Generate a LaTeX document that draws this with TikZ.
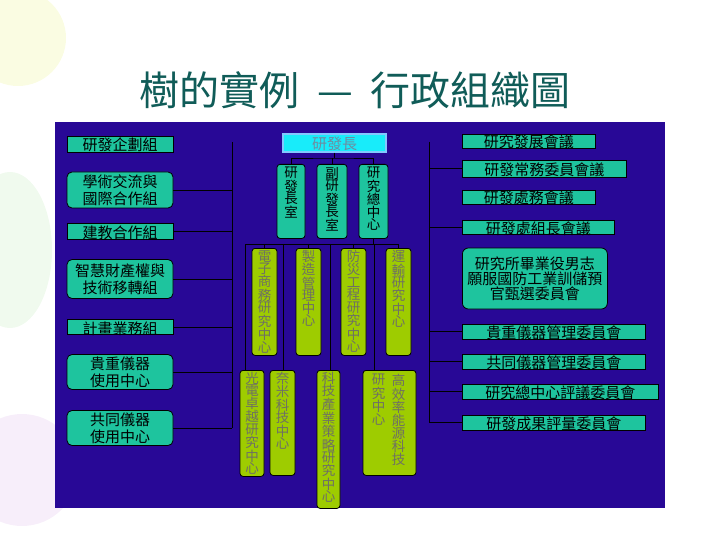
\documentclass[tikz,border=0pt]{standalone}
\usepackage{fontspec}
\newfontfamily\cjk{Noto Sans CJK TC}
\usetikzlibrary{positioning}
\definecolor{bgblue}{RGB}{40,8,150}
\definecolor{tealbox}{RGB}{30,196,158}
\definecolor{limebox}{RGB}{158,204,0}
\definecolor{chiefcyan}{RGB}{24,236,250}
\definecolor{chiefedge}{RGB}{130,200,255}
\definecolor{chieftext}{RGB}{110,140,160}
\definecolor{gtext}{RGB}{110,112,100}
\definecolor{titlecol}{RGB}{16,92,88}
\definecolor{ballyellow}{RGB}{250,252,226}
\definecolor{ballgreen}{RGB}{240,250,238}
\definecolor{ballviolet}{RGB}{247,238,250}
\begin{document}
\begin{tikzpicture}[x=1pt,y=-1pt,
  wire/.style={line width=0.8pt, black},
  sgl/.style={text height=14pt, text depth=-3pt},
  grp/.style={draw=black, line width=0.8pt, fill=tealbox, inner sep=0pt, minimum width=106pt,
    align=center, font=\cjk\fontsize{15}{17}\selectfont},
  cmt/.style={draw=black, line width=0.8pt, fill=tealbox, inner sep=0pt, anchor=west,
    align=center, font=\cjk\fontsize{15}{15}\selectfont},
  vcell/.style={draw=black, line width=0.8pt, rounded corners=3pt, inner sep=0pt, anchor=north},
  office/.style={vcell, fill=tealbox},
  ctrbox/.style={vcell, fill=limebox},
  vtxt/.style={align=center, inner sep=0pt, font=\cjk\fontsize{13.5}{12.4}\selectfont}]
  \useasboundingbox (0,0) rectangle (720,540);
  % faint balloons behind the slide
  \fill[ballyellow] (18,38) circle (48);
  \fill[ballgreen] (10,250) ellipse (42 and 78);
  \fill[ballviolet] (22,470) circle (56);
  \fill[bgblue] (55,122) rectangle (665,508);
  \node[font=\cjk\fontsize{40}{40}\selectfont, text=titlecol] (title) at (355,90)
    {樹的實例\hspace{18pt}—\hspace{18pt}行政組織圖};

  % left groups
  \node[grp, sgl, minimum height=16pt] (plan) at (120,144) {研發企劃組};
  \node[grp, rounded corners=5pt, minimum height=36pt] (intl) at (120,190) {學術交流與\\國際合作組};
  \node[grp, sgl, minimum height=16pt] (coop) at (120,231) {建教合作組};
  \node[grp, rounded corners=5pt, minimum height=39pt] (ipr) at (120,279) {智慧財產權與\\技術移轉組};
  \node[grp, sgl, minimum height=15pt] (proj) at (120,327) {計畫業務組};
  \node[grp, rounded corners=5pt, minimum height=35pt] (inst) at (120,372) {貴重儀器\\使用中心};
  \node[grp, rounded corners=5pt, minimum height=35pt] (comm) at (120,428) {共同儀器\\使用中心};
  \coordinate (ltop) at (232,142);
  \coordinate (lbot) at (232,428);
  \draw[wire] (ltop) -- (lbot);
  \foreach \n in {intl,coop,ipr,proj,inst,comm}
    \draw[wire] (\n.east) -- (\n.east -| ltop);

  % right committees
  \node[cmt, sgl, minimum width=133pt, minimum height=13pt] (rdc) at (462,141) {研究發展會議};
  \node[cmt, sgl, minimum width=164pt, minimum height=17pt] (rsc) at (462,168.5) {研發常務委員會議};
  \node[cmt, sgl, minimum width=133pt, minimum height=12pt] (rom) at (462,197) {研發處務會議};
  \node[cmt, sgl, minimum width=152pt, minimum height=12pt] (rgm) at (462,227) {研發處組長會議};
  \node[cmt, rounded corners=6pt, minimum width=145pt, minimum height=61pt] (rotc) at (462,278.5)
    {研究所畢業役男志\\願服國防工業訓儲預\\官甄選委員會};
  \node[cmt, sgl, minimum width=183pt, minimum height=15pt] (rim) at (462,331.5) {貴重儀器管理委員會};
  \node[cmt, sgl, minimum width=183pt, minimum height=15pt] (rcm) at (462,361.5) {共同儀器管理委員會};
  \node[cmt, sgl, minimum width=196pt, minimum height=15pt] (rrc) at (462,391.5) {研究總中心評議委員會};
  \node[cmt, sgl, minimum width=183pt, minimum height=15pt] (rev) at (462,422.5) {研發成果評量委員會};
  \coordinate (rtop) at (429,142);
  \coordinate (rbot) at (429,423);
  \draw[wire] (rtop) -- (rbot);
  \foreach \n in {rsc,rgm,rim,rcm,rrc,rev}
    \draw[wire] (\n.west -| rtop) -- (\n.west);

  % dean and offices
  \node[draw=chiefedge, line width=1.2pt, fill=chiefcyan, inner sep=0pt, sgl, minimum width=103pt,
    minimum height=18pt, text=chieftext, font=\cjk\fontsize{15}{15}\selectfont] (chief) at (334.5,143) {研發長};
  \node[office, minimum width=28pt, minimum height=74pt] (dean) at (291,164) {};
  \node[office, minimum width=30pt, minimum height=74pt] (vdean) at (332,164) {};
  \node[office, minimum width=29pt, minimum height=74pt] (rctr) at (373.5,164) {};
  \node[vtxt, below=3pt of dean.north] (deant) {研\\發\\長\\室};
  \node[vtxt, below=3pt of vdean.north] (vdeant) {副\\研\\發\\長\\室};
  \node[vtxt, below=3pt of rctr.north] (rctrt) {研\\究\\總\\中\\心};
  \coordinate (tsplit) at (334.5,158);
  \draw[wire] (chief.south) -- (tsplit);
  \draw[wire] (dean.north) |- (tsplit) -| (rctr.north);
  \draw[wire] (vdean.north) -- (vdean.north |- tsplit);

  % research centres
  \coordinate (d1) at (245,244);
  \coordinate (d2) at (283,244);
  \coordinate (d3) at (330,244);
  \coordinate (d4) at (374,244);
  \coordinate (busr) at (398.5,244);
  \draw[wire] (rctr.south) -- (rctr.south |- d1);
  \draw[wire] (d1) -- (busr);
  \node[ctrbox, minimum width=25pt, minimum height=107pt] (ec) at (264.5,248) {};
  \node[ctrbox, minimum width=25pt, minimum height=107pt] (mfg) at (308.5,248) {};
  \node[ctrbox, minimum width=25pt, minimum height=107pt] (dis) at (353.5,248) {};
  \node[ctrbox, minimum width=25pt, minimum height=107pt] (trn) at (398.5,248) {};
  \foreach \n in {ec,mfg,dis,trn}
    \draw[wire] (\n.north) -- (\n.north |- d1);
  \node[vtxt, text=gtext, below=2pt of ec.north] (ect) {電\\子\\商\\務\\研\\究\\中\\心};
  \node[vtxt, text=gtext, below=2pt of mfg.north] (mfgt) {製\\造\\管\\理\\中\\心};
  \node[vtxt, text=gtext, below=2pt of dis.north] (dist) {防\\災\\工\\程\\研\\究\\中\\心};
  \node[vtxt, text=gtext, below=2pt of trn.north] (trnt) {運\\輸\\研\\究\\中\\心};

  \node[ctrbox, minimum width=24pt, minimum height=106pt] (opto) at (252,370) {};
  \node[ctrbox, minimum width=25pt, minimum height=105pt] (nano) at (282.5,370) {};
  \node[ctrbox, minimum width=23pt, minimum height=138pt] (stra) at (328.5,370) {};
  \node[ctrbox, minimum width=53pt, minimum height=105pt] (eff) at (389.5,370) {};
  \draw[wire] (d1) -- (d1 |- opto.north);
  \draw[wire] (d2) -- (d2 |- nano.north);
  \draw[wire] (d3) -- (d3 |- stra.north);
  \draw[wire] (d4) -- (d4 |- eff.north);
  \node[vtxt, text=gtext, below=2pt of opto.north] (optot) {光\\電\\卓\\越\\研\\究\\中\\心};
  \node[vtxt, text=gtext, below=2pt of nano.north] (nanot) {奈\\米\\科\\技\\中\\心};
  \node[vtxt, text=gtext, below=2pt of stra.north] (strat) {科\\技\\產\\業\\策\\略\\研\\究\\中\\心};
  \node[vtxt, text=gtext, below=4pt of eff.north, xshift=9pt] (efft) {高\\效\\率\\能\\源\\科\\技};
  \node[vtxt, text=gtext, below=4pt of eff.north, xshift=-11pt] (effs) {研\\究\\中\\心};
\end{tikzpicture}
\end{document}
